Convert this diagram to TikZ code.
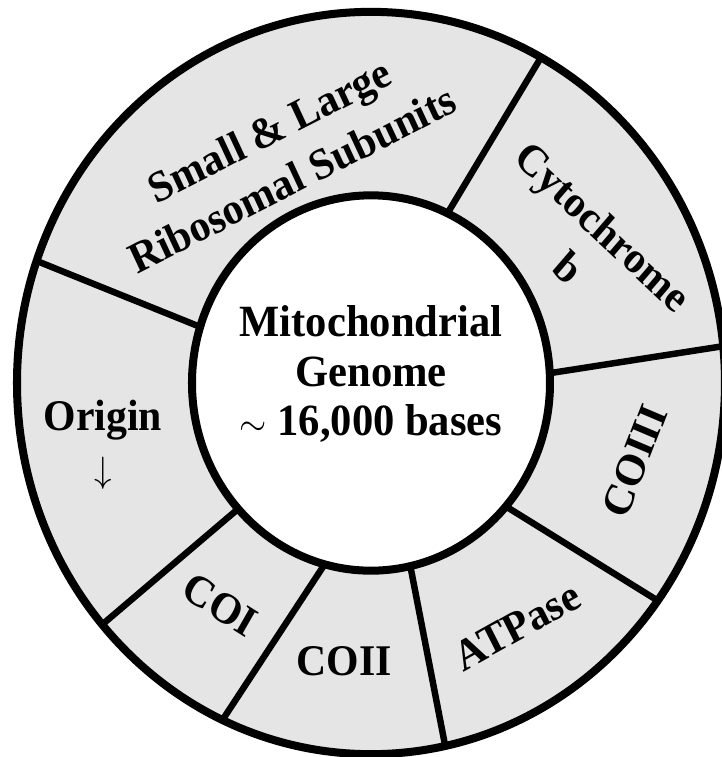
\documentclass[tikz,border=0pt]{standalone}
\usepackage{fontspec}
\setmainfont{Liberation Serif}
\usepackage{tikz}
\usetikzlibrary{positioning}
\definecolor{ringgray}{RGB}{229,229,229}

\begin{document}
\begin{tikzpicture}[x=0.025cm, y=0.025cm, yscale=1.0485,
    divider/.style={line width=4.6pt},
    rim/.style={line width=5.7pt},
    seglabel/.style={font=\fontsize{29.7}{37}\selectfont\bfseries, align=center, inner sep=0pt, transform shape}]
  \useasboundingbox (-371,-356.7) rectangle (351,365.3);
  \coordinate (genome) at (0,0);
  % ring and hole
  \fill[ringgray] (genome) circle (354);
  \fill[white] (genome) circle (179);
  \foreach \a/\b in {64.7/61.3, 3.0/5.7, -41.1/-35.9, -77.3/-77.9, -105.0/-114.8, -137.9/-139.4, 162.6/160.8}
    \draw[divider] (\a:179) -- (\b:354);
  \draw[rim] (genome) circle (354);
  \draw[rim] (genome) circle (179);
  % gene labels
  \node[seglabel, rotate=26, font=\fontsize{29.7}{37}\selectfont\bfseries] (ribo) at (112.5:236) {Small \& Large\\Ribosomal Subunits};
  \node[seglabel, rotate=-42] (cytb) at (31.1:251) {Cytochrome\\b};
  \node[seglabel, rotate=68] (coiii) at (-15.8:274) {COIII};
  \node[seglabel, rotate=28] (atp) at (-57.8:274) {ATPase};
  \node[seglabel] (coii) at (-95.8:267) {COII};
  \node[seglabel, rotate=-31] (coi) at (-125.5:260) {COI};
  \node[seglabel, font=\fontsize{29.7}{35}\selectfont\bfseries] (origin) at (192.4:274.4) {Origin\\$\downarrow$};
  \node[seglabel, font=\fontsize{30.3}{33.5}\selectfont\bfseries] (title) at (0,8.6) {Mitochondrial\\Genome\\$\sim$ 16,000 bases};
\end{tikzpicture}
\end{document}
